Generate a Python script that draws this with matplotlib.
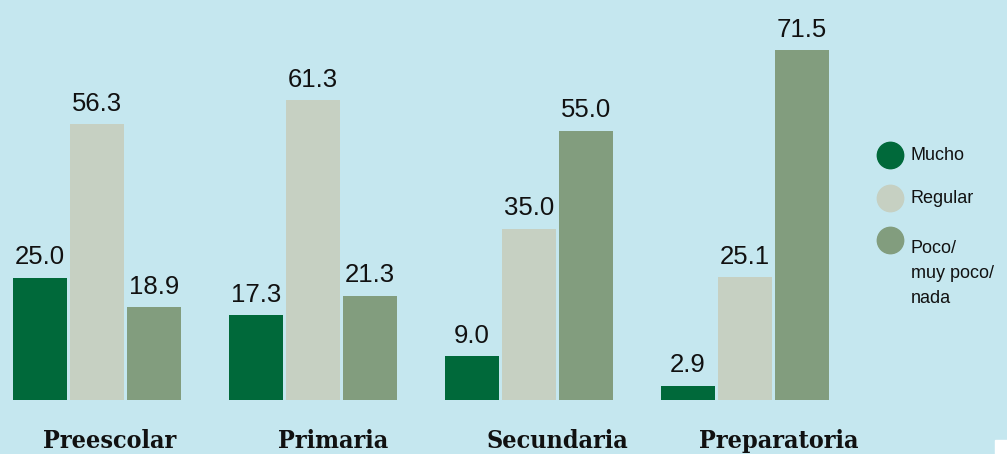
import numpy as np
import matplotlib
matplotlib.use("Agg")
from matplotlib import pyplot as plt
from matplotlib.lines import Line2D
from matplotlib.patches import Rectangle

# data
categories = ['Preescolar', 'Primaria', 'Secundaria', 'Preparatoria']
series_names = ['Mucho', 'Regular', 'Poco/\nmuy poco/\nnada']
mucho = [25.0, 17.3, 9.0, 2.9]
regular = [56.3, 61.3, 35.0, 25.1]
poco = [18.9, 21.3, 55.0, 71.5]

colors = ['#00693a', '#c6d0c2', '#829d7e']
bg = '#c5e7ef'
label_font = ['Liberation Sans Narrow', 'Liberation Sans', 'DejaVu Sans']

fig = plt.figure(figsize=(10.07, 4.54), dpi=100, facecolor=bg)
ax = fig.add_axes([0.0, 0.119, 0.854, 0.881])
ax.set_facecolor(bg)

x = np.arange(len(categories))
width = 0.25
step = 0.264
for k, vals in enumerate([mucho, regular, poco]):
    pos = x + (k - 1) * step
    bars = ax.bar(pos, vals, width, color=colors[k], zorder=2)
    for b, v in zip(bars, vals):
        ax.annotate('%.1f' % v, (b.get_x() + b.get_width() / 2, v),
                    xytext=(0, 6), textcoords='offset points',
                    ha='center', va='bottom', fontsize=18.5,
                    family=label_font, color='#111111')

ax.set_xlim(-0.449, 3.532)
ax.set_ylim(0, 81.7)
for s in ax.spines.values():
    s.set_visible(False)
ax.set_yticks([])
ax.set_xticks([0.06, 1.093, 2.13, 3.157])
ax.set_xticklabels(categories, family='DejaVu Serif', fontstretch='condensed',
                   fontweight='bold', fontsize=18, color='#111111')
ax.tick_params(axis='x', length=0, pad=21)

# legend drawn by hand on the right
leg_y = [1 - 155 / 454, 1 - 198 / 454, 1 - 240 / 454]
for c, name, yy in zip(colors, series_names, leg_y):
    fig.add_artist(Line2D([890 / 1007], [yy], marker='o', ms=19, color=c,
                          linestyle='none', transform=fig.transFigure))
    fig.text(911 / 1007, yy, name, fontsize=13, family=label_font,
             color='#111111', va='top' if '\n' in name else 'center',
             linespacing=1.6,
             transform=fig.transFigure)

# small white corner patch from the source image
fig.patches.append(Rectangle((995 / 1007, 0), 12 / 1007, 14 / 454,
                             transform=fig.transFigure, color='white'))

plt.savefig('out.png', dpi=100, facecolor=bg)
